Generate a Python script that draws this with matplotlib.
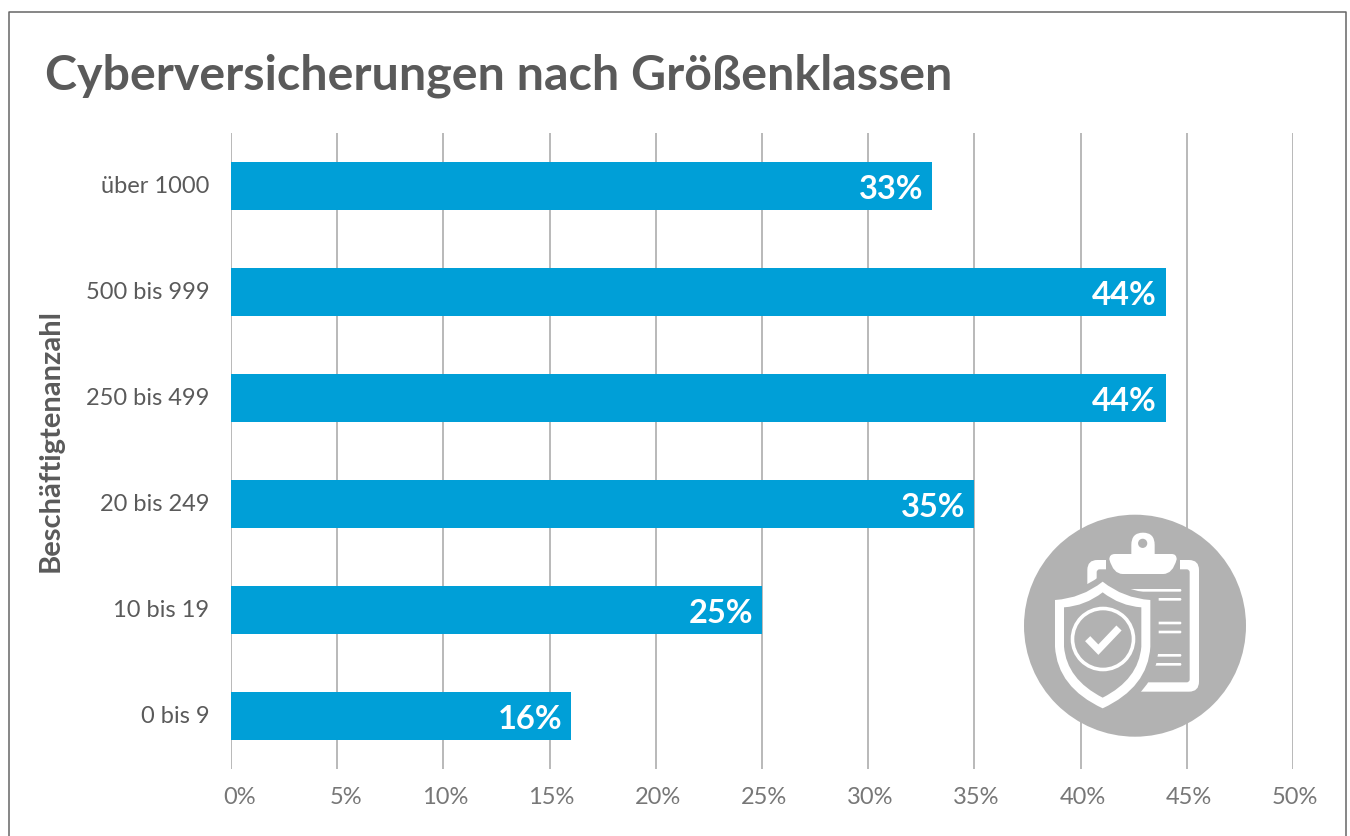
import matplotlib
matplotlib.use("Agg")
import matplotlib.pyplot as plt
from matplotlib.patches import Circle, PathPatch, FancyBboxPatch
from matplotlib.path import Path
from matplotlib.transforms import ScaledTranslation

categories = ["0 bis 9", "10 bis 19", "20 bis 249", "250 bis 499", "500 bis 999", "über 1000"]
values = [16, 25, 35, 44, 44, 33]
ticks = [0, 5, 10, 15, 20, 25, 30, 35, 40, 45, 50]
title = "Cyberversicherungen nach Größenklassen"
ylabel = "Beschäftigtenanzahl"

W, H = 1350, 836
GRAY = "#5a5a5a"
BLUE = "#009fd7"
ICON = "#b2b2b2"
plt.rcParams["font.family"] = ["Lato", "DejaVu Sans"]

fig = plt.figure(figsize=(W / 100, H / 100), dpi=100, facecolor="white")
ax = fig.add_axes([231 / W, 1 - 769 / H, (1293 - 231) / W, (769 - 133) / H])
ax.barh(categories, values, height=0.46, color=BLUE, zorder=3)
ax.set_xlim(0, 50)
ax.set_ylim(-0.5, 5.5)
ax.set_xticks(ticks)
ax.set_xticklabels([f"{t}%" for t in ticks], fontsize=17, color="#777777")
ax.tick_params(axis="x", length=0, pad=13)
ax.tick_params(axis="y", length=0, pad=22, labelsize=17, labelcolor=GRAY)
ax.grid(axis="x", color="#b9b9b9", lw=1.4, zorder=0)
for s in ax.spines.values():
    s.set_visible(False)
for lab in ax.get_xticklabels():
    lab.set_ha("right")
    lab.set_transform(lab.get_transform() + ScaledTranslation(25 / 100, 0, fig.dpi_scale_trans))
for lab in ax.get_yticklabels():
    lab.set_transform(lab.get_transform() + ScaledTranslation(9 / 100, 1.5 / 100, fig.dpi_scale_trans))
for i, v in enumerate(values):
    ax.text(v - 0.4, i - 0.035, f"{v}%", ha="right", va="center", color="white",
            fontsize=23.5, fontweight="bold", zorder=4)

fig.text(45 / W, 1 - 89 / H, title, fontsize=34.8, fontweight="bold", color=GRAY, va="baseline", ha="left")
fig.text(51 / W, 1 - 440 / H, ylabel, fontsize=21, fontweight="bold", color=GRAY, rotation=90,
         va="center", ha="center")

# overlay in pixel space: frame and decorative icon
ov = fig.add_axes([0, 0, 1, 1], facecolor="none", zorder=5)
ov.set_xlim(0, W)
ov.set_ylim(H, 0)
ov.axis("off")
ov.plot([8.5, 8.5, 1345.5, 1345.5], [H, 11.5, 11.5, H], color="#666666", lw=1.1)


def zx(x):
    return 1000 + x / 3


def zy(y):
    return 500 + y / 3


def poly(pts, codes, **kw):
    ov.add_patch(PathPatch(Path([(zx(a), zy(b)) for a, b in pts], codes), lw=0, **kw))


def rrect(x0, y0, x1, y1, r, color, z):
    ov.add_patch(FancyBboxPatch((zx(x0) + r, zy(y0) + r), (x1 - x0) / 3 - 2 * r, (y1 - y0) / 3 - 2 * r,
                                boxstyle=f"round,pad={r},rounding_size={r}", fc=color, ec="none", zorder=z))


M, L, C = Path.MOVETO, Path.LINETO, Path.CURVE3

ov.add_patch(Circle((1135, 625.7), 111, fc=ICON, ec="none", zorder=1))
# clipboard
rrect(262, 180, 597, 575, 10, "white", 2)
rrect(290, 208, 569, 547, 3, ICON, 3)
# gap around the clip
rrect(318, 150, 540, 232, 0.5, ICON, 3.5)
# clip
poly([(394, 162), (394, 135), (394, 98), (429, 98), (464, 98), (464, 135), (464, 162), (515, 162),
      (530, 162), (530, 178), (518, 222), (490, 222), (368, 222), (340, 222), (328, 178), (328, 162),
      (345, 162), (394, 162)],
     [M, L, C, C, C, C, L, L, C, C, C, C, L, C, C, C, C, L], fc="white", zorder=4)
ov.add_patch(Circle((zx(428), zy(130)), 4.6, fc=ICON, ec="none", zorder=5))
# text lines on the clipboard
for y in [271, 298, 369, 396, 466, 493]:
    rrect(385 if y == 271 else 440, y - 4, 544, y + 4, 1.2, "white", 4)
# shield halo, outline, inner
cd = [M, C, C, L, C, C, C, C, L, C, C]
halo = [(308, 222), (245, 275), (140, 282), (140, 440), (145, 585), (308, 652),
        (471, 585), (476, 440), (476, 282), (371, 275), (308, 222)]
sh = [(308, 245), (245, 295), (165, 300), (165, 440), (172, 562), (308, 625),
      (444, 562), (451, 440), (451, 300), (371, 295), (308, 245)]
inner = [(308, 277), (255, 318), (192, 322), (192, 440), (200, 538), (308, 593),
         (416, 538), (424, 440), (424, 322), (361, 318), (308, 277)]
poly(halo, cd, fc=ICON, zorder=5)
poly(sh, cd, fc="white", zorder=6)
poly(inner, cd, fc=ICON, zorder=7)
ov.add_patch(Circle((zx(309), zy(417)), 30.5, fc="none", ec="white", lw=2.6, zorder=8))
ov.plot([zx(263), zx(295), zx(357)], [zy(416), zy(449), zy(384)], color="white", lw=5.2,
        solid_joinstyle="miter", solid_capstyle="butt", zorder=8)

fig.savefig("out.png", dpi=100)
